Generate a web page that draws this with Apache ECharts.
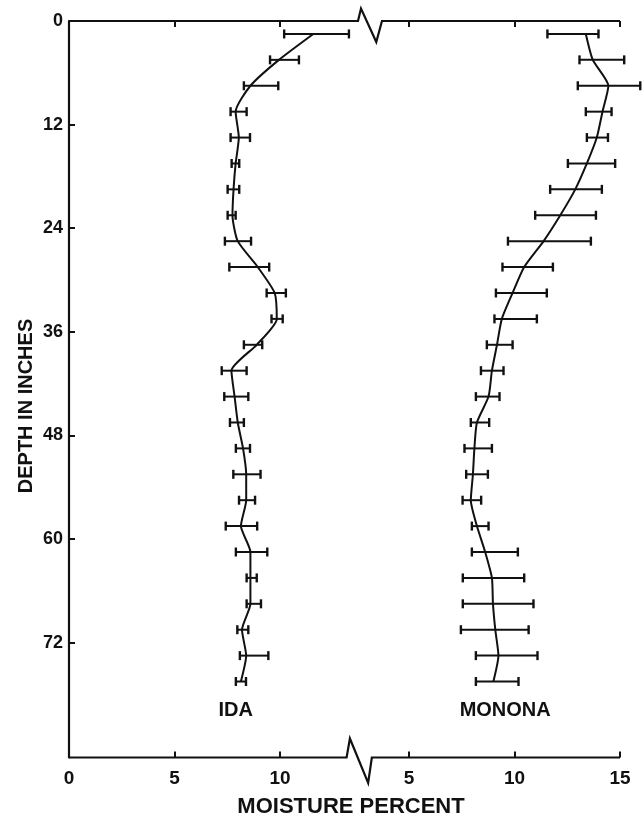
<!DOCTYPE html>
<html>
<head>
<meta charset="utf-8">
<script src="https://cdn.jsdelivr.net/npm/echarts@6/dist/echarts.min.js"></script>
<style>
  html, body { margin: 0; padding: 0; background: #ffffff; }
  #chart { width: 642px; height: 820px; }
</style>
</head>
<body>
<div id="chart"></div>
<script>
// Sampling depths (inches), midpoints of 3-inch increments
const depthInches = [1.5, 4.5, 7.5, 10.5, 13.5, 16.5, 19.5, 22.5, 25.5, 28.5, 31.5, 34.5, 37.5,
                     40.5, 43.5, 46.5, 49.5, 52.5, 55.5, 58.5, 61.5, 64.5, 67.5, 70.5, 73.5, 76.5];

// Ida soil: mean moisture percent and range limits
const idaMean = [11.58, 9.95, 8.6, 7.9, 8.05, 7.9, 7.8, 7.75, 8.0, 8.95, 9.75, 9.85, 8.9,
                 7.7, 7.85, 8.0, 8.25, 8.4, 8.4, 8.15, 8.6, 8.6, 8.6, 8.2, 8.4, 8.15];
const idaLow  = [10.2, 9.53, 8.29, 7.66, 7.66, 7.71, 7.52, 7.52, 7.39, 7.6, 9.37, 9.6, 8.29,
                 7.24, 7.36, 7.63, 7.91, 7.79, 8.06, 7.43, 7.91, 8.42, 8.42, 7.98, 8.1, 7.91];
const idaHigh = [13.27, 10.9, 9.92, 8.42, 8.58, 8.07, 8.07, 7.9, 8.63, 9.49, 10.28, 10.13, 9.16,
                 8.42, 8.5, 8.29, 8.58, 9.08, 8.82, 8.92, 9.4, 8.9, 9.1, 8.5, 9.45, 8.39];

// Monona soil: mean moisture percent and range limits
const mononaMean = [13.38, 13.71, 14.45, 14.17, 13.9, 13.43, 12.88, 12.17, 11.38, 10.46, 9.91, 9.4, 9.17,
                    8.93, 8.77, 8.22, 8.1, 8.03, 7.93, 8.22, 8.61, 8.93, 8.98, 9.09, 9.24, 9.0];
const mononaLow  = [11.56, 13.08, 13.0, 13.38, 13.43, 12.53, 11.69, 10.98, 9.69, 9.43, 9.12, 9.05, 8.69,
                    8.41, 8.17, 7.93, 7.63, 7.71, 7.54, 7.98, 7.98, 7.55, 7.55, 7.46, 8.17, 8.17];
const mononaHigh = [13.98, 15.2, 15.96, 14.6, 14.43, 14.77, 14.14, 13.86, 13.62, 11.82, 11.53, 11.06, 9.91,
                    9.48, 9.29, 8.8, 8.93, 8.74, 8.42, 8.77, 10.16, 10.46, 10.9, 10.67, 11.09, 10.19];

// Tick labels
const depthTicks = [0, 12, 24, 36, 48, 60, 72];
const idaTicks = [0, 5, 10];
const mononaTicks = [5, 10, 15];

const INK = '#111111';
const FONT = "'Liberation Sans', Arial, sans-serif";

const chart = echarts.init(document.getElementById('chart'), null, { renderer: 'canvas' });

function bottomAxis(gridIndex, min, max, ticks) {
  return {
    type: 'value', gridIndex, min, max, position: 'bottom',
    axisLine: { show: false, onZero: false },
    axisTick: { show: true, inside: true, length: 6, customValues: ticks,
                lineStyle: { color: INK, width: 2 } },
    axisLabel: { show: true, customValues: ticks, margin: 12, color: INK,
                 fontFamily: FONT, fontWeight: 'bold', fontSize: 19 },
    splitLine: { show: false }
  };
}
function topAxis(gridIndex, min, max, ticks) {
  return {
    type: 'value', gridIndex, min, max, position: 'top',
    axisLine: { show: false, onZero: false },
    axisTick: { show: true, inside: true, length: 6, customValues: ticks,
                lineStyle: { color: INK, width: 2 } },
    axisLabel: { show: false },
    splitLine: { show: false }
  };
}

function errorBars(name, xAxisIndex, yAxisIndex, low, high) {
  return {
    name, type: 'custom', xAxisIndex, yAxisIndex, clip: false,
    encode: { x: [0, 1], y: 2 },
    data: depthInches.map((d, i) => [low[i], high[i], d]),
    renderItem(params, api) {
      const d = api.value(2);
      const a = api.coord([api.value(0), d]);
      const b = api.coord([api.value(1), d]);
      const h = 4.5;
      return {
        type: 'group',
        children: [
          { type: 'line', shape: { x1: a[0], y1: a[1], x2: b[0], y2: b[1] }, style: { stroke: INK, lineWidth: 2 } },
          { type: 'line', shape: { x1: a[0], y1: a[1] - h, x2: a[0], y2: a[1] + h }, style: { stroke: INK, lineWidth: 2.4 } },
          { type: 'line', shape: { x1: b[0], y1: b[1] - h, x2: b[0], y2: b[1] + h }, style: { stroke: INK, lineWidth: 2.4 } }
        ]
      };
    }
  };
}

function profileLine(name, xAxisIndex, yAxisIndex, mean) {
  return {
    name, type: 'line', xAxisIndex, yAxisIndex,
    data: mean.map((m, i) => [m, depthInches[i]]),
    showSymbol: false, smooth: 0.2,
    lineStyle: { color: INK, width: 2 },
    z: 3
  };
}

const depthMax = 85.3;

const option = {
  backgroundColor: '#ffffff',
  animation: false,
  grid: [
    { left: 69, top: 21, width: 289, height: 736.5 },
    { left: 371, top: 21, width: 249, height: 736.5 }
  ],
  xAxis: [
    bottomAxis(0, 0, 13.7, idaTicks),
    topAxis(0, 0, 13.7, idaTicks),
    bottomAxis(1, 3.2, 15, mononaTicks),
    topAxis(1, 3.2, 15, mononaTicks)
  ],
  yAxis: [
    {
      type: 'value', gridIndex: 0, min: 0, max: depthMax, inverse: true,
      axisLine: { show: true, onZero: false, lineStyle: { color: INK, width: 2.2 } },
      axisTick: { show: true, inside: true, length: 6, customValues: depthTicks,
                  lineStyle: { color: INK, width: 2 } },
      axisLabel: { customValues: depthTicks, margin: 6, color: INK,
                   fontFamily: FONT, fontWeight: 'bold', fontSize: 18 },
      splitLine: { show: false }
    },
    {
      type: 'value', gridIndex: 1, min: 0, max: depthMax, inverse: true, show: false
    }
  ],
  series: [
    errorBars('IDA range', 0, 0, idaLow, idaHigh),
    profileLine('IDA', 0, 0, idaMean),
    errorBars('MONONA range', 2, 1, mononaLow, mononaHigh),
    profileLine('MONONA', 2, 1, mononaMean)
  ]
};
chart.setOption(option);

// Frame lines with break marks, placed from axis values
const breakTop = { from: 13.7, to: 3.72 };
const breakBottom = { from: 13.16, to: 3.24 };

function px(gridIndex, x, y) {
  return chart.convertToPixel({ gridIndex }, [x, y]);
}
function frameLine(depth, brk, peak, valley) {
  const start = px(0, 0, depth);
  const s = px(0, brk.from, depth);
  const r = px(1, brk.to, depth);
  const end = px(1, 15, depth);
  return [start, s, [s[0] + peak[0], s[1] + peak[1]], [r[0] + valley[0], r[1] + valley[1]], r, end];
}

const topPts = frameLine(0, breakTop, [3, -12.5], [-5.7, 21]);
const bottomPts = frameLine(depthMax, breakBottom, [3.3, -19], [-3.7, 25.4]);

const idaLabelPos = px(0, 7.9, 79.8);
const mononaLabelPos = px(1, 9.56, 79.8);

chart.setOption({
  graphic: [
    { type: 'polyline', shape: { points: topPts }, style: { stroke: INK, lineWidth: 2.2, fill: null }, z: 10 },
    { type: 'polyline', shape: { points: bottomPts }, style: { stroke: INK, lineWidth: 2.2, fill: null }, z: 10 },
    { type: 'text', x: idaLabelPos[0], y: idaLabelPos[1],
      style: { text: 'IDA', fill: INK, font: "bold 20px " + FONT, align: 'center', verticalAlign: 'middle' } },
    { type: 'text', x: mononaLabelPos[0], y: mononaLabelPos[1],
      style: { text: 'MONONA', fill: INK, font: "bold 20px " + FONT, align: 'center', verticalAlign: 'middle' } },
    { type: 'text', x: 351, y: 807,
      style: { text: 'MOISTURE PERCENT', fill: INK, font: "bold 22px " + FONT, align: 'center', verticalAlign: 'middle' } },
    { type: 'text', x: 26, y: 406, rotation: Math.PI / 2,
      style: { text: 'DEPTH IN INCHES', fill: INK, font: "bold 20px " + FONT, align: 'center', verticalAlign: 'middle' } }
  ]
});
</script>
</body>
</html>
